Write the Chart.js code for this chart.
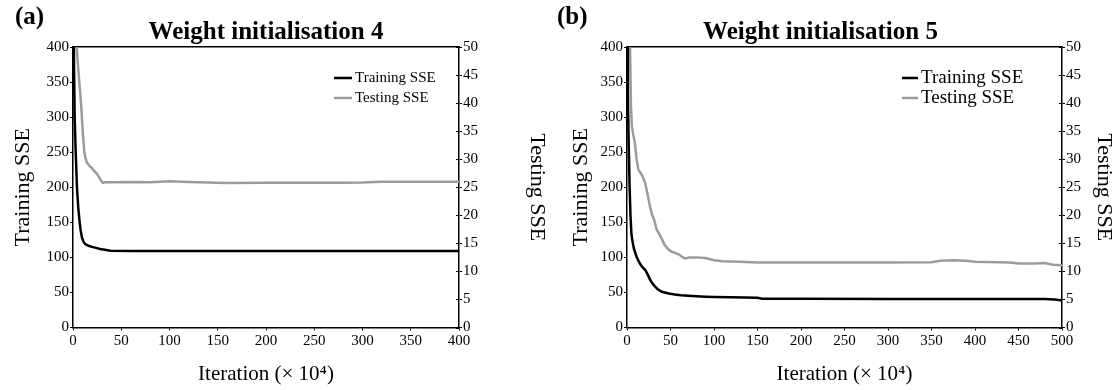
<!DOCTYPE html>
<html>
<head>
<meta charset="utf-8">
<script src="https://cdn.jsdelivr.net/npm/chart.js@4/dist/chart.umd.min.js"></script>
<style>
  html, body { margin: 0; padding: 0; background: #fff; }
  #wrap { position: relative; width: 1115px; height: 390px; overflow: hidden; }
  canvas { position: absolute; top: 0; }
</style>
</head>
<body>
<div id="wrap">
  <canvas id="chartA" width="557" height="390" style="left:0"></canvas>
  <canvas id="chartB" width="560" height="390" style="left:555px"></canvas>
</div>
<script>
// ---- Weight initialisation 4: iterations (x 10^4) and SSE ----
const trainIterA = [0, 1, 1.7, 2.8, 4.1, 5.5, 6.9, 8, 9.3, 11, 12.7, 16, 19.6, 24, 28, 33, 38.6, 60, 100, 200, 300, 400];
const trainSseA  = [440, 380, 300, 250, 200, 170, 150, 138, 128, 122, 119, 116.5, 115, 113.5, 112, 111, 109.5, 109, 109, 109, 109, 109];
const testIterA  = [0, 3.5, 5, 6.9, 8.3, 10.3, 11.7, 13, 14.5, 17, 19.6, 22, 24.8, 27, 29, 31, 33.4, 40, 60, 80, 100, 120, 140, 160, 200, 240, 280, 300, 320, 360, 400];
const testSseA   = [58, 51, 47, 43, 40, 34.4, 31.3, 30.2, 29.4, 28.8, 28.4, 27.9, 27.4, 26.8, 26.2, 25.8, 25.9, 25.9, 25.95, 25.9, 26.05, 25.95, 25.85, 25.75, 25.8, 25.8, 25.8, 25.85, 26.0, 26.0, 26.0];

// ---- Weight initialisation 5 ----
const trainIterB = [0, 1, 2, 3, 4, 5, 6, 8, 11, 14, 17, 21, 24, 27, 31, 35, 40, 48, 55, 62, 75, 90, 100, 120, 150, 155, 200, 300, 400, 480, 492, 500];
const trainSseB  = [440, 330, 260, 200, 160, 135, 125, 112, 101, 93, 87, 82, 75, 67, 60, 55, 51, 48.5, 47, 46, 45, 44, 43.5, 43, 42.5, 41, 41, 40.8, 40.6, 40.5, 40, 38.5];
const testIterB  = [0, 3, 4.5, 5.5, 7, 9, 11, 13, 15, 17, 19, 21, 24, 26.5, 29, 31, 34, 37, 40, 43, 46, 50, 55, 60, 64, 67, 72, 80, 90, 100, 110, 130, 150, 200, 250, 300, 350, 360, 375, 390, 400, 440, 450, 470, 480, 490, 500];
const testSseB   = [62, 55, 40, 36, 34.5, 33, 30, 28.2, 27.7, 27.2, 26.5, 25.7, 23.5, 21.5, 20, 19.3, 17.5, 16.7, 15.8, 14.8, 14.2, 13.6, 13.3, 13, 12.5, 12.3, 12.5, 12.5, 12.4, 12.0, 11.8, 11.7, 11.6, 11.6, 11.6, 11.6, 11.65, 11.9, 12.0, 11.9, 11.7, 11.6, 11.4, 11.4, 11.5, 11.2, 11.1];

// ---- Axis ranges and labels ----
const trainTicks = { min: 0, max: 400, step: 50 };
const testTicks  = { min: 0, max: 50, step: 5 };
const xStep = 50;
const seriesNames = ['Training SSE', 'Testing SSE'];
const xTitle = 'Iteration (\u00d7 10\u2074)';

const SERIF = '"Liberation Serif", "Times New Roman", serif';

function pts(xs, ys) { return xs.map((x, i) => ({ x, y: ys[i] })); }

// Panel tag, chart title, legend and the inner half of the right-axis ticks
const panelText = {
  id: 'panelText',
  afterDraw(chart, args, o) {
    const ctx = chart.ctx, a = chart.chartArea;
    ctx.save();
    // right axis ticks cross the axis line
    const r = chart.scales.y2;
    ctx.strokeStyle = '#000';
    ctx.lineWidth = 1;
    r.ticks.forEach((t) => {
      const y = Math.round(r.getPixelForValue(t.value)) + 0.5;
      ctx.beginPath();
      ctx.moveTo(a.right - 3, y);
      ctx.lineTo(a.right, y);
      ctx.stroke();
    });
    ctx.fillStyle = '#000';
    ctx.textBaseline = 'middle';
    ctx.font = 'bold 25px ' + SERIF;
    ctx.textAlign = 'left';
    ctx.fillText(o.tag, o.tagX, o.tagY);
    ctx.textAlign = 'center';
    ctx.fillText(o.title, (a.left + a.right) / 2 + o.titleShift, o.titleY);
    ctx.font = o.legendSize + 'px ' + SERIF;
    ctx.textAlign = 'left';
    chart.data.datasets.forEach((ds, i) => {
      const y = o.legendY + i * o.legendGap;
      ctx.strokeStyle = ds.borderColor;
      ctx.lineWidth = ds.borderWidth;
      ctx.beginPath();
      ctx.moveTo(o.legendX, y);
      ctx.lineTo(o.legendX + o.legendLine, y);
      ctx.stroke();
      ctx.fillText(ds.label, o.legendX + o.legendLine + 3, y);
    });
    ctx.restore();
  }
};

function makeChart(id, p) {
  const tickFont = { family: SERIF, size: 15 };
  const yTitleFont = { family: SERIF, size: 22 };
  const xTitleFont = { family: SERIF, size: 21 };
  return new Chart(document.getElementById(id), {
    type: 'line',
    data: {
      datasets: [
        { label: seriesNames[0], data: pts(p.trainIter, p.trainSse), yAxisID: 'y',
          borderColor: '#000000', borderWidth: 2.5, pointRadius: 0, tension: 0 },
        { label: seriesNames[1], data: pts(p.testIter, p.testSse), yAxisID: 'y2',
          borderColor: '#9c9c9c', borderWidth: 2.5, pointRadius: 0, tension: 0 }
      ]
    },
    options: {
      responsive: false,
      animation: false,
      devicePixelRatio: 1,
      layout: { padding: { top: 47, left: 0, right: 0, bottom: 0 } },
      plugins: {
        legend: { display: false },
        tooltip: { enabled: false },
        panelText: p.text
      },
      scales: {
        x: {
          type: 'linear', position: 'bottom', min: 0, max: p.xMax,
          ticks: { stepSize: xStep, color: '#000', font: tickFont, padding: 1.5, maxRotation: 0 },
          grid: { drawOnChartArea: false, tickLength: 3, color: '#000', lineWidth: 1 },
          border: { color: '#000', width: 1.5 },
          title: { display: true, text: xTitle, color: '#000', font: xTitleFont, padding: { top: 0, bottom: 2.5 } },
          afterFit: (s) => { s.height = 62.5; }
        },
        xTop: {
          type: 'linear', position: 'top', min: 0, max: p.xMax,
          ticks: { display: false },
          grid: { display: false, drawTicks: false },
          border: { color: '#000', width: 1.5 },
          afterFit: (s) => { s.height = 0; }
        },
        y: {
          type: 'linear', position: 'left', min: trainTicks.min, max: trainTicks.max,
          ticks: { stepSize: trainTicks.step, color: '#000', font: tickFont, padding: 1 },
          grid: { drawOnChartArea: false, tickLength: 3, color: '#000', lineWidth: 1 },
          border: { color: '#000', width: 1.5 },
          title: { display: true, text: seriesNames[0], color: '#000', font: yTitleFont, padding: { top: p.leftPad, bottom: 0 } },
          afterFit: (s) => { s.width = p.leftW; }
        },
        y2: {
          type: 'linear', position: 'right', min: testTicks.min, max: testTicks.max,
          ticks: { stepSize: testTicks.step, color: '#000', font: tickFont, padding: 1 },
          grid: { drawOnChartArea: false, tickLength: 3, color: '#000', lineWidth: 1 },
          border: { color: '#000', width: 1.5 },
          title: { display: true, text: seriesNames[1], color: '#000', font: yTitleFont, padding: { top: p.rightPad, bottom: 0 } },
          afterFit: (s) => { s.width = p.rightW; }
        }
      }
    },
    plugins: [panelText]
  });
}

makeChart('chartA', {
  trainIter: trainIterA, trainSse: trainSseA, testIter: testIterA, testSse: testSseA,
  xMax: 400, leftW: 73, rightW: 98, leftPad: 10, rightPad: 7,
  text: { tag: '(a)', tagX: 15, tagY: 18, title: 'Weight initialisation 4', titleY: 33, titleShift: 0,
          legendX: 334, legendY: 78, legendGap: 20, legendLine: 18, legendSize: 15 }
});

makeChart('chartB', {
  trainIter: trainIterB, trainSse: trainSseB, testIter: testIterB, testSse: testSseB,
  xMax: 500, leftW: 72, rightW: 53, leftPad: 13, rightPad: -2,
  text: { tag: '(b)', tagX: 2, tagY: 18, title: 'Weight initialisation 5', titleY: 33, titleShift: -24,
          legendX: 347, legendY: 78, legendGap: 20, legendLine: 16, legendSize: 19 }
});
</script>
</body>
</html>
